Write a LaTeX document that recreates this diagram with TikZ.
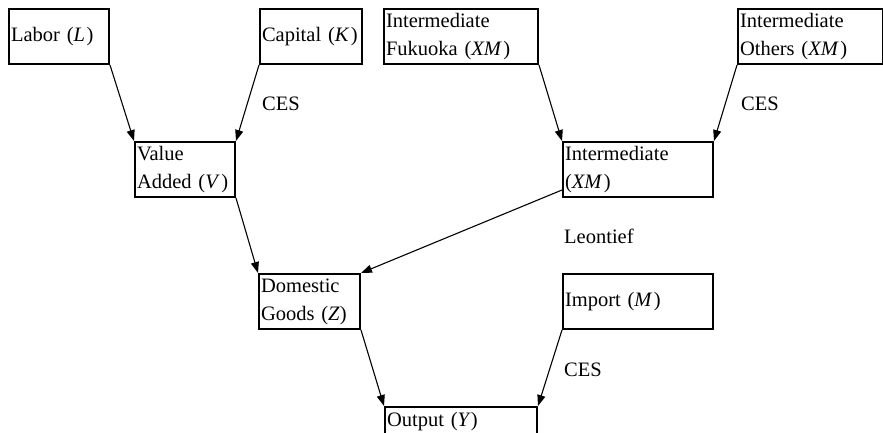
\documentclass[tikz,border=0pt]{standalone}
\usepackage{fontspec}
\setmainfont{Liberation Serif}
\usetikzlibrary{arrows.meta}
\newcommand{\ik}[1]{\textit{#1}\kern1.5pt}
\begin{document}
\begin{tikzpicture}[x=1pt,y=-1pt,
  box/.style={draw, line width=2pt, rectangle, anchor=north west, inner xsep=2pt, inner ysep=0pt,
    minimum height=55pt, align=left, font=\fontsize{20.5}{28}\selectfont},
  lbl/.style={anchor=west, inner sep=0pt, font=\fontsize{20.5}{28}\selectfont},
  arr/.style={line width=1.1pt, -{Triangle[length=11pt,width=8pt]}}]
\useasboundingbox (0,0) rectangle (883,433);
\clip (0,0) rectangle (883,433);
\node[box, text width=96pt] (labor) at (8,8) {Labor (\ik{L})};
\node[box, text width=98pt] (cap) at (259,8) {\mbox{Capital (\ik{K})}};
\node[box, text width=150pt] (fuk) at (383,8) {Intermediate\\Fukuoka (\ik{XM})};
\node[box, text width=141pt] (oth) at (737,8) {Intermediate\\Others (\ik{XM})};
\node[box, text width=96pt] (va) at (134,141) {Value\\Added (\ik{V})};
\node[box, text width=146pt] (int) at (562,141) {Intermediate\\(\ik{XM})};
\node[box, text width=97pt] (dom) at (258,273) {Domestic\\Goods (\textit{Z})};
\node[box, text width=146pt] (imp) at (562,273) {Import (\ik{M})};
\node[box, text width=148pt, minimum height=30pt] (out) at (384,406) {Output (\textit{Y})};
\node[lbl] (ces1) at (262,104) {CES};
\node[lbl] (ces2) at (741,104) {CES};
\node[lbl] (leo) at (564,236) {Leontief};
\node[lbl] (ces3) at (564,370) {CES};
\draw[arr] (labor.south east) -- (va.north west);
\draw[arr] (cap.south west) -- (va.north east);
\draw[arr] (fuk.south east) -- (int.north west);
\draw[arr] (oth.south west) -- (int.north east);
\draw[arr] (va.south east) -- (dom.north west);
\draw[arr] ([yshift=8pt]int.south west) -- (dom.north east);
\draw[arr] (dom.south east) -- (out.north west);
\draw[arr] (imp.south west) -- (out.north east);
\end{tikzpicture}
\end{document}
